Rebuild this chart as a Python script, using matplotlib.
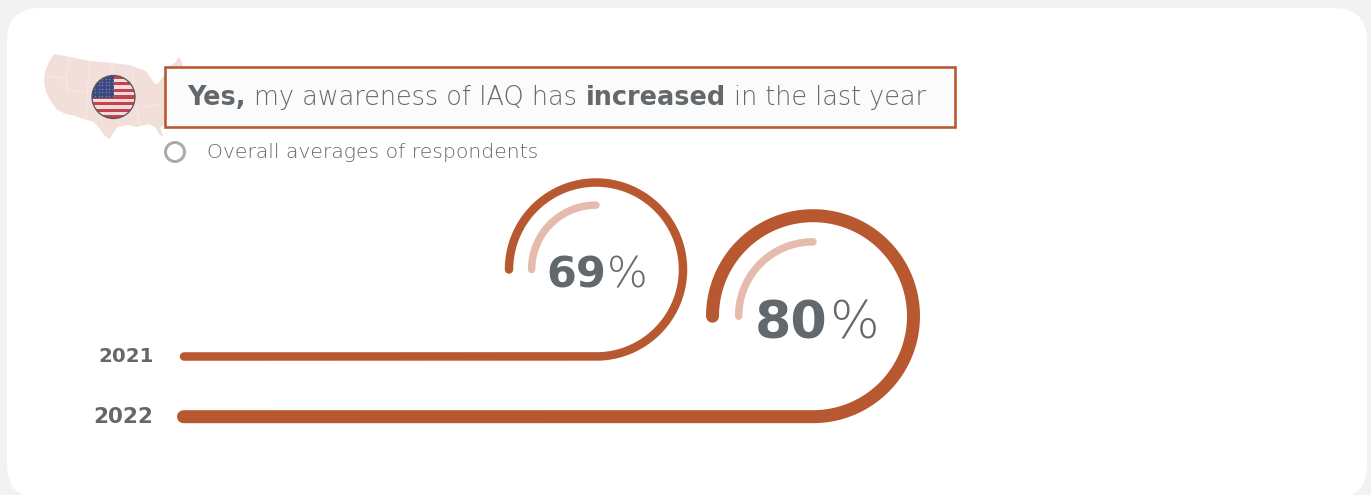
import numpy as np
import matplotlib
matplotlib.use("Agg")
import matplotlib.pyplot as plt
from matplotlib.patches import Circle, FancyBboxPatch, Polygon, Rectangle

# ============================
# DATA
# ============================
YEARS = ["2021", "2022"]
VALUES = [69, 80]

QUESTION_RUNS = [
    ("Yes,", "bold"),
    ("my awareness of IAQ has", "light"),
    ("increased", "bold"),
    ("in the last year", "light"),
]
LEGEND_LABEL = "Overall averages of respondents"

# outline of the lower 48 states, pixel space
MAP_X = [54, 70, 90, 112, 130, 137, 143, 147, 152, 155, 158, 164, 170, 176, 178, 181, 183,
         178, 176, 170, 160, 164, 160, 155, 148, 137, 128, 118, 113, 110, 105, 99, 94, 87, 75,
         66, 57, 50, 46, 44, 45, 49]
MAP_Y = [54, 57, 61, 63, 65, 68, 70, 72, 80, 84, 84, 75, 66, 62, 57, 60, 66,
         72, 100, 120, 128, 137, 135, 127, 124, 127, 125, 127, 133, 139, 136, 128, 122, 120, 116,
         114, 110, 100, 92, 82, 72, 62]

# a few interior state borders, drawn faintly
BORDER_X = [[70, 66, 68], [90, 88, 86], [62, 47], [112, 112, 118], [132, 134, 140], [60, 75, 88], [86, 112], [140, 160]]
BORDER_Y = [[57, 76, 92], [61, 85, 118], [78, 76], [63, 90, 124], [66, 92, 125], [85, 91, 93], [86, 88], [108, 104]]

# ============================
# STYLE
# ============================
PAGE = "#f2f2f2"
CARD = "#ffffff"
RUST = "#b85830"
RUST_LIGHT = "#e6bbae"
MAP_TINT = "#f3dfd9"
INK = "#62686c"
INK_LIGHT = "#62686c"
PX = 0.72  # points per pixel at dpi 100


def scale(value, low, high):
    # linear scale anchored on the two survey values
    return low + (value - 69) * (high - low) / 11


def text_run(ax, x, y, runs, size, gap, color, zorder=9):
    # lays mixed-weight text out left to right
    renderer = ax.figure.canvas.get_renderer()
    for s, weight in runs:
        t = ax.text(x, y, s, fontsize=size, weight=weight, color=color, zorder=zorder,
                    family="DejaVu Sans", va="baseline", ha="left")
        x = t.get_window_extent(renderer).x1 + gap


def draw_flag(ax, cx, cy, r):
    clip = Circle((cx, cy), r, transform=ax.transData)
    stripe = 2 * r / 13
    ax.add_patch(Rectangle((cx - r, cy - r), 2 * r, 2 * r, color="#efdcdc", zorder=3, clip_path=clip))
    for i in range(0, 13, 2):
        ax.add_patch(Rectangle((cx - r, cy - r + i * stripe), 2 * r, stripe, color="#c8404a",
                               lw=0, zorder=4, clip_path=clip))
    ax.add_patch(Rectangle((cx - r, cy - r), r, r * 1.03, color="#3b4a80", lw=0, zorder=5, clip_path=clip))
    sx, sy = np.meshgrid(np.arange(cx - r + 3, cx, 3.6), np.arange(cy - r + 3, cy, 3.4))
    stars = ax.scatter(sx.ravel(), sy.ravel(), s=1.0, color="#7d88b0", lw=0, zorder=6)
    stars.set_clip_path(clip)
    ax.add_patch(Circle((cx, cy), r, fill=False, ec="#55585c", lw=1.3 * PX, zorder=7))


# ============================
# FIGURE
# ============================
fig = plt.figure(figsize=(13.71, 4.95), dpi=100, facecolor=PAGE)
ax = fig.add_axes([0, 0, 1, 1])
ax.set_xlim(0, 1371)
ax.set_ylim(495, 0)
ax.axis("off")
fig.canvas.draw()

ax.add_patch(FancyBboxPatch((7 + 33, 8 + 33), 1360 - 66, 490 - 66,
                            boxstyle="round,pad=33,rounding_size=33", fc=CARD, ec="none", zorder=0))

# header: map, flag, question box
ax.add_patch(Polygon(np.column_stack([MAP_X, MAP_Y]), closed=True, fc=MAP_TINT, ec="none", zorder=1))
for bx, by in zip(BORDER_X, BORDER_Y):
    ax.plot(bx, by, color="#f8ebe7", lw=0.6, zorder=1.5)
draw_flag(ax, 113.5, 97, 21.5)
ax.add_patch(Rectangle((165, 67), 789.5, 60, fc="#fbfbfb", ec=RUST, lw=2.6 * PX, zorder=8))
text_run(ax, 187, 105, QUESTION_RUNS, 18.4, 8.5, INK)

ax.add_patch(Circle((175, 152), 9.5, fill=False, ec="#ababab", lw=3 * PX, zorder=2))
ax.text(207, 152, LEGEND_LABEL, fontsize=14.65, weight="light", color=INK_LIGHT, family="DejaVu Sans",
        va="center", ha="left")

# rings: a straight run that curls back round the label
LANE_Y = [356.5, 416.7]
for year, value, lane in zip(YEARS, VALUES, LANE_Y):
    cx = scale(value, 596, 813)
    r = scale(value, 87, 100.5)
    lw = scale(value, 8.5, 13)
    start = scale(value, 184, 183.5)
    cy = lane - r

    t = np.radians(np.linspace(90, -180, 200))
    xs = np.concatenate([[start], cx + r * np.cos(t)])
    ys = np.concatenate([[lane], cy + r * np.sin(t)])
    ax.plot(xs, ys, color=RUST, lw=lw * PX, solid_capstyle="round", solid_joinstyle="round", zorder=3)

    t = np.radians(np.linspace(-180, -90, 80))
    ri = r * 0.74
    ax.plot(cx + ri * np.cos(t), cy + ri * np.sin(t), color=RUST_LIGHT, lw=7.5 * PX,
            solid_capstyle="round", zorder=3)

    # percentage label
    fs = scale(value, 31, 37.6)
    x0 = scale(value, 546, 755)
    base = scale(value, 287, 338.5)
    text_run(ax, x0, base, [(str(value), "bold"), ("%", "light")], fs, 1, INK)

    ax.text(153.5, lane - 2, year, fontsize=scale(value, 14.3, 15.5), weight="bold", color=INK,
            family="DejaVu Sans", va="center_baseline", ha="right")

fig.savefig("out.png", dpi=100, facecolor=PAGE)
